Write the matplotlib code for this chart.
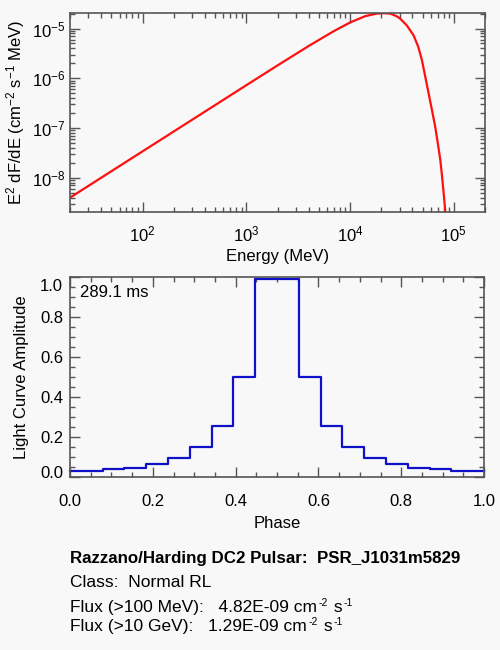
import matplotlib
matplotlib.use("Agg")
import matplotlib.pyplot as plt
from matplotlib.ticker import LogLocator, AutoMinorLocator, NullFormatter
from matplotlib.transforms import ScaledTranslation

# ---------------- data ----------------
energy_mev = [20, 50, 100, 300, 1000, 2000, 4000, 7000, 1.0e4, 1.4e4, 1.8e4, 2.1e4,
              2.43e4, 2.82e4, 3.04e4, 3.52e4, 4.09e4, 4.55e4, 4.93e4, 5.3e4, 5.72e4,
              6.15e4, 6.62e4, 7.0e4, 7.41e4, 7.7e4, 7.98e4, 8.28e4, 8.6e4]
e2dfde = [3.98e-9, 1.35e-8, 3.39e-8, 1.46e-7, 7.24e-7, 1.81e-6, 4.46e-6, 8.89e-6,
          1.32e-5, 1.77e-5, 1.99e-5, 2.03e-5, 2.0e-5, 1.76e-5, 1.58e-5, 1.16e-5,
          7.35e-6, 4.27e-6, 2.32e-6, 1.1e-6, 5.0e-7, 2.34e-7, 1.07e-7, 5.1e-8,
          2.32e-8, 1.1e-8, 5.0e-9, 2.14e-9, 8.0e-10]

phase = [i / 19 for i in range(20)]
amplitude = [0.028, 0.030, 0.038, 0.047, 0.065, 0.096, 0.151, 0.255, 0.502, 0.99,
             0.99, 0.502, 0.255, 0.151, 0.096, 0.065, 0.047, 0.038, 0.030, 0.028]

period_text = "289.1 ms"
title_line = "Razzano/Harding DC2 Pulsar:  PSR_J1031m5829"
class_line = "Class:  Normal RL"
flux_labels = ["Flux (>100 MeV):   4.82E-09", "Flux (>10 GeV):   1.29E-09"]

# ---------------- style ----------------
FONT = "Liberation Sans"
plt.rcParams["font.family"] = [FONT, "DejaVu Sans"]
plt.rcParams["mathtext.fontset"] = "custom"
plt.rcParams["mathtext.rm"] = FONT
plt.rcParams["mathtext.it"] = FONT + ":italic"
plt.rcParams["mathtext.bf"] = FONT + ":bold"
plt.rcParams["mathtext.default"] = "regular"
FS = 12
plt.rcParams["font.size"] = FS

BG = "#f8f8f8"
AX = "#555555"
W, H = 500, 650

fig = plt.figure(figsize=(5, 6.5), dpi=100, facecolor=BG)


def frac_axes(l, t, r, b):
    return fig.add_axes([l / W, 1 - b / H, (r - l) / W, (b - t) / H])


def style(ax):
    ax.set_facecolor(BG)
    for s in ax.spines.values():
        s.set_color(AX)
        s.set_linewidth(1.2)
    ax.tick_params(which="both", direction="in", top=True, right=True,
                   color=AX, labelcolor="black", labelsize=FS)
    ax.tick_params(which="major", length=7, width=1)
    ax.tick_params(which="minor", length=3.5, width=1)


# ---------------- top: spectrum ----------------
ax1 = frac_axes(70, 13, 485, 212)
style(ax1)
ax1.plot(energy_mev, e2dfde, color="#ff1010", lw=1.6)
ax1.set_xscale("log")
ax1.set_yscale("log")
ax1.set_xlim(20, 2e5)
ax1.set_ylim(2.05e-9, 2.05e-5)
ax1.xaxis.set_major_locator(LogLocator(base=10, numticks=10))
ax1.xaxis.set_minor_locator(LogLocator(base=10, subs=range(2, 10), numticks=20))
ax1.xaxis.set_minor_formatter(NullFormatter())
ax1.yaxis.set_major_locator(LogLocator(base=10, numticks=10))
ax1.yaxis.set_minor_locator(LogLocator(base=10, subs=range(2, 10), numticks=20))
ax1.yaxis.set_minor_formatter(NullFormatter())
ax1.tick_params(axis="x", which="major", pad=9)
ax1.tick_params(axis="y", which="major", pad=3)
ax1.set_xlabel("Energy (MeV)", fontsize=FS, labelpad=3)
ax1.set_ylabel(r"E$^2$ dF/dE (cm$^{-2}$ s$^{-1}$ MeV)", fontsize=FS, labelpad=4)

# ---------------- bottom: light curve ----------------
ax2 = frac_axes(70, 277, 484, 477)
style(ax2)
ax2.step(phase, amplitude, where="mid", color="#1010c8", lw=1.6, clip_on=False)
ax2.set_xlim(0, 1)
ax2.set_ylim(0, 1.0)
ax2.set_xticks([0.0, 0.2, 0.4, 0.6, 0.8, 1.0])
ax2.set_yticks([0.0, 0.2, 0.4, 0.6, 0.8, 1.0])
ax2.set_xticklabels(["0.0", "0.2", "0.4", "0.6", "0.8", "1.0"])
ax2.set_yticklabels(["0.0", "0.2", "0.4", "0.6", "0.8", "1.0"])
ax2.xaxis.set_minor_locator(AutoMinorLocator(4))
ax2.yaxis.set_minor_locator(AutoMinorLocator(4))
ax2.tick_params(axis="x", which="major", pad=12)
ax2.tick_params(axis="y", which="major", pad=5)
ax2.set_xlabel("Phase", fontsize=FS, labelpad=5)
ax2.set_ylabel("Light Curve Amplitude", fontsize=FS, labelpad=8)
ax2.text(10 / 414, 1 - 16 / 200, period_text, transform=ax2.transAxes,
         ha="left", va="center", fontsize=FS)

# ---------------- info text ----------------
FS_INFO = 12.5
FS_SUP = 7.5
fig.text(70 / W, 1 - 563 / H, title_line, ha="left", va="baseline",
         fontsize=12.2, fontweight="bold")
fig.text(70 / W, 1 - 587 / H, class_line, ha="left", va="baseline", fontsize=FS_INFO)

fig.canvas.draw()
renderer = fig.canvas.get_renderer()


def put(x_px, base_px, s, size):
    t = fig.text(x_px / W, 1 - base_px / H, s, ha="left", va="baseline", fontsize=size)
    return t.get_window_extent(renderer).x1


for label, base in zip(flux_labels, [612, 631]):
    x = put(70, base, label + " cm", FS_INFO)
    x = put(x + 1.5, base - 6, "-2", FS_SUP)
    x = put(x + 1, base, " s", FS_INFO)
    put(x + 1.5, base - 6, "-1", FS_SUP)

# shift end labels of the light-curve y-axis inward
labs = ax2.get_yticklabels()
labs[-1].set_transform(labs[-1].get_transform() +
                       ScaledTranslation(0, -8.5 / 100, fig.dpi_scale_trans))
labs[0].set_transform(labs[0].get_transform() +
                      ScaledTranslation(0, 5.5 / 100, fig.dpi_scale_trans))

fig.savefig("out.png", dpi=100, facecolor=BG)
